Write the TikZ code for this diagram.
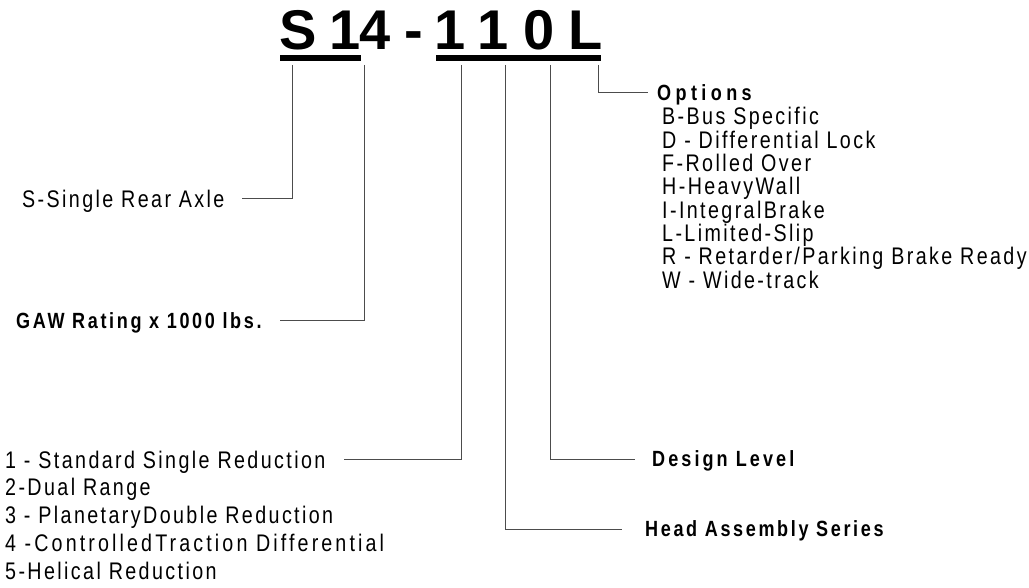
\documentclass[tikz,border=0pt]{standalone}
\usepackage{fontspec}
\setmainfont{Liberation Sans}
\newfontfamily\narrowfont{Liberation Sans}[FakeStretch=0.82,LetterSpace=10]
\newfontfamily\narrowbold{Liberation Sans Bold}[FakeStretch=0.82,LetterSpace=12]
\usetikzlibrary{positioning}

\tikzset{
  item/.style = {inner sep=0pt, anchor=west, text height=17pt, text depth=0pt,
                 font=\narrowfont\fontsize{24}{26}\selectfont},
  heading/.style = {inner sep=0pt, anchor=west, text height=15.5pt, text depth=0pt,
                    font=\narrowbold\fontsize{22}{24}\selectfont},
  codechar/.style = {inner sep=0pt, anchor=base, font=\bfseries\fontsize{56}{60}\selectfont},
  codebar/.style = {line width=6pt},
  leader/.style = {line width=1pt, draw=black!70}
}

\begin{document}
\begin{tikzpicture}[x=1pt,y=-1pt]
  \useasboundingbox (0,0) rectangle (1029,588);
  % model code
  \foreach \cx/\ch [count=\i] in {298/S,345/1,375/4,414/-,450/1,493/1,539/0,586/L}
    \node[codechar] (c\i) at (\cx,50) {\ch};
  \draw[codebar] (280,58) -- (361,58);
  \draw[codebar] (436,58) -- (601,58);
  \foreach \tx [count=\i] in {292,364,461,505,550,598}
    \coordinate (t\i) at (\tx,65);

  % left side
  \node[item] (axle) at (22,199) {S-Single Rear Axle};
  \node[heading] (gaw) at (16,321) {GAW Rating x 1000 lbs.};
  \foreach \t [count=\i] in {1 - Standard Single Reduction, 2-Dual Range,
      3 - PlanetaryDouble Reduction,
      \addfontfeature{LetterSpace=13}4 -ControlledTraction Differential,
      5-Helical Reduction}
    \node[item] (red\i) at (5,{431.75+27.75*\i}) {\t};

  % right side
  \node[heading] (opts) at (657,93) {\addfontfeature{LetterSpace=20}Options};
  \foreach \t [count=\i] in {B-Bus Specific, D - Differential Lock, F-Rolled Over,
      H-HeavyWall, I-IntegralBrake, L-Limited-Slip,
      R - Retarder/Parking Brake Ready, W - Wide-track}
    \node[item] (opt\i) at (662,{93.2+23.3*\i}) {\t};
  \node[heading] (design) at (652,459) {\addfontfeature{LetterSpace=14}Design Level};
  \node[heading] (head) at (645,529) {Head Assembly Series};

  % leaders
  \draw[leader] (t1) |- ([xshift=17]axle.east);
  \draw[leader] (t2) |- ([xshift=18]gaw.east);
  \draw[leader] (t3) |- ([xshift=18]red1.east);
  \draw[leader] (t4) |- ([xshift=-23]head.west);
  \draw[leader] (t5) |- ([xshift=-17]design.west);
  \draw[leader] (t6) |- ([xshift=-9]opts.west);
\end{tikzpicture}
\end{document}
